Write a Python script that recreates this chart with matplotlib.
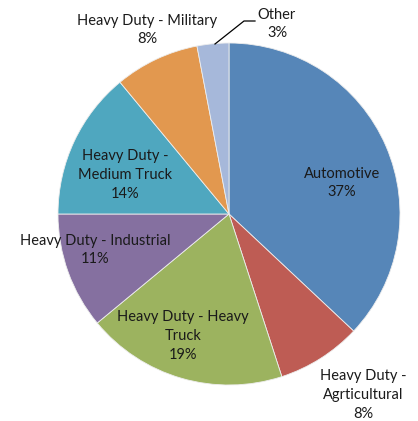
import matplotlib
matplotlib.use("Agg")
import matplotlib.pyplot as plt

categories = ["Automotive", "Heavy Duty -\nAgrticultural", "Heavy Duty - Heavy\nTruck",
              "Heavy Duty - Industrial", "Heavy Duty -\nMedium Truck",
              "Heavy Duty - Military", "Other"]
values = [37, 8, 19, 11, 14, 8, 3]
colors = ['#5686B8', '#BE5C54', '#9CB35F', '#8570A0', '#4FA7BF', '#E2984F', '#A6B8DA']

# label block centres in pixel coordinates (x, y from top)
label_pos = [(342, 183), (363, 395), (183, 336), (95, 250), (125, 175), (147, 30), (277, 24)]

W, H = 418, 421
fig = plt.figure(figsize=(W / 100, H / 100), dpi=100)
ax = fig.add_axes([0, 0, 1, 1])

cx, cy, r = 229, H - 214, 171
ax.pie(values, colors=colors, startangle=90, counterclock=False,
       center=(cx, cy), radius=r, frame=True,
       wedgeprops=dict(edgecolor='#EDEDED', linewidth=0.6))
ax.set_xlim(0, W)
ax.set_ylim(0, H)
ax.set_aspect('equal')
ax.axis('off')

for cat, v, (px, py) in zip(categories, values, label_pos):
    ax.text(px, H - py, f"{cat}\n{v}%", ha='center', va='center',
            fontsize=10.5, family=['Lato', 'DejaVu Sans'], color='#1a1a1a',
            linespacing=1.45)

# leader line for "Other"
ax.plot([215, 244, 255], [H - 44, H - 21, H - 21], color='black', linewidth=0.9)

fig.savefig("out.png", dpi=100)
